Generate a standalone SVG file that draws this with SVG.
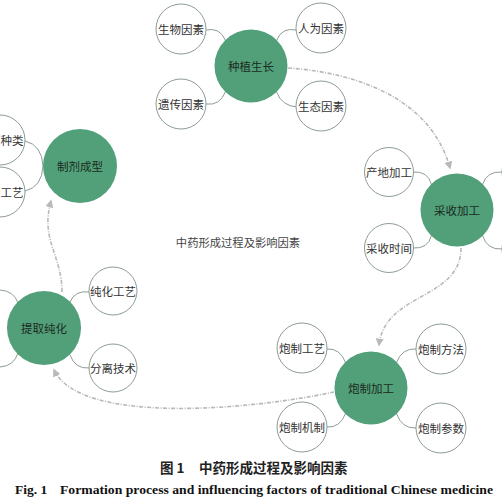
<svg xmlns="http://www.w3.org/2000/svg" width="502" height="501" viewBox="0 0 502 501">
<defs>
<style>
.main{fill:#52a07a;}
.mt{font-family:"Noto Sans CJK SC",sans-serif;font-size:11.5px;fill:#1a2a20;text-anchor:middle;dominant-baseline:central;}
.sat{fill:#ffffff;stroke:#7f9188;stroke-width:0.9;}
.st{font-family:"Noto Sans CJK SC",sans-serif;font-size:11.5px;fill:#333;text-anchor:middle;dominant-baseline:central;}
.link{fill:none;stroke:#7f9188;stroke-width:0.9;}
.flow{fill:none;stroke:#b8b8b8;stroke-width:1.6;stroke-dasharray:4 1.5 1 1.5;marker-end:url(#ah);}
</style>
<marker id="ah" viewBox="0 0 10 10" refX="8" refY="5" markerWidth="5" markerHeight="5" orient="auto" markerUnits="strokeWidth">
<path d="M0,0 L10,5 L0,10 z" fill="#b8b8b8"/>
</marker>
</defs>
<rect width="502" height="501" fill="#ffffff"/>

<g id="connectors">
<path class="flow" d="M288,68 C350,72 430,95 450,168"/>
<path class="flow" d="M461,248 C461,300 385,292 379,345"/>
<path class="flow" d="M334,392 C250,410 80,425 54,370"/>
<path class="flow" d="M62,292 C62,255 40,240 51,201"/>
<path class="link" d="M206,30 Q220,27 225.5,40.5"/>
<path class="link" d="M296,30 Q282,27 276.5,40.5"/>
<path class="link" d="M206,104 Q220,106 225.5,91.5"/>
<path class="link" d="M297,107 Q282,106 276.5,92"/>
<path class="link" d="M25,141 Q42,145 43,166"/>
<path class="link" d="M25,191 Q42,187 43,166"/>
<path class="link" d="M413,172 Q428,171 431.5,184.5"/>
<path class="link" d="M413,248 Q428,249 431.5,235.5"/>
<path class="link" d="M502,172 Q487,171 482.5,184.5"/>
<path class="link" d="M502,249 Q487,250 482.5,235.5"/>
<path class="link" d="M89,292 Q75,290 70,302"/>
<path class="link" d="M89,368 Q75,369 70,355"/>
<path class="link" d="M0,290 Q14,291 18,303"/>
<path class="link" d="M0,367 Q14,366 18,353"/>
<path class="link" d="M327,349 Q340,348 345.5,362.5"/>
<path class="link" d="M416,349 Q402,348 396.5,362.5"/>
<path class="link" d="M327,427 Q340,428 345.5,413.5"/>
<path class="link" d="M416,428 Q402,429 396.5,413.5"/>
</g>

<g id="n-zhongzhi"><circle class="main" cx="251" cy="66" r="36.5"/><text class="mt" x="251" y="66">种植生长</text></g>
<g id="n-shengwu"><circle class="sat" cx="181" cy="29" r="25"/><text class="st" x="181" y="29">生物因素</text></g>
<g id="n-renwei"><circle class="sat" cx="321" cy="28" r="25"/><text class="st" x="321" y="28">人为因素</text></g>
<g id="n-yichuan"><circle class="sat" cx="181" cy="104" r="25"/><text class="st" x="181" y="104">遗传因素</text></g>
<g id="n-shengtai"><circle class="sat" cx="321" cy="106" r="25"/><text class="st" x="321" y="106">生态因素</text></g>

<g id="n-zhiji"><circle class="main" cx="80" cy="166" r="37"/><text class="mt" x="80" y="166">制剂成型</text></g>
<g id="n-zhonglei"><circle class="sat" cx="0" cy="140" r="25"/><text class="st" x="12" y="140">种类</text></g>
<g id="n-gongyi"><circle class="sat" cx="0" cy="192" r="25"/><text class="st" x="12" y="192">工艺</text></g>

<g id="n-caishou"><circle class="main" cx="457" cy="210" r="36.5"/><text class="mt" x="457" y="210">采收加工</text></g>
<g id="n-chandi"><circle class="sat" cx="389" cy="172" r="24.5"/><text class="st" x="389" y="172">产地加工</text></g>
<g id="n-caishijian"><circle class="sat" cx="389" cy="248" r="24.5"/><text class="st" x="389" y="248">采收时间</text></g>
<g id="n-right1"><circle class="sat" cx="527" cy="172" r="25"/></g>
<g id="n-right2"><circle class="sat" cx="527" cy="249" r="25"/></g>

<g id="n-tiqu"><circle class="main" cx="44" cy="328" r="37"/><text class="mt" x="44" y="328">提取纯化</text></g>
<g id="n-chunhua"><circle class="sat" cx="113" cy="291" r="24"/><text class="st" x="113" y="291">纯化工艺</text></g>
<g id="n-fenli"><circle class="sat" cx="113" cy="368" r="24"/><text class="st" x="113" y="368">分离技术</text></g>

<g id="n-paozhi"><circle class="main" cx="371" cy="388" r="36.5"/><text class="mt" x="371" y="388">炮制加工</text></g>
<g id="n-pzgy"><circle class="sat" cx="302" cy="348" r="25"/><text class="st" x="302" y="348">炮制工艺</text></g>
<g id="n-pzff"><circle class="sat" cx="441" cy="349" r="25"/><text class="st" x="441" y="349">炮制方法</text></g>
<g id="n-pzjz"><circle class="sat" cx="302" cy="427" r="25"/><text class="st" x="302" y="427">炮制机制</text></g>
<g id="n-pzcs"><circle class="sat" cx="441" cy="428" r="25"/><text class="st" x="441" y="428">炮制参数</text></g>

<text x="238" y="242" font-family="Noto Sans CJK SC,sans-serif" font-size="11.3" fill="#444" text-anchor="middle" dominant-baseline="central">中药形成过程及影响因素</text>

<g id="caption">
<text x="160" y="473" font-family="Noto Sans CJK SC,sans-serif" font-size="13.5" font-weight="bold" fill="#222">图 1</text>
<text x="199" y="473" font-family="Noto Sans CJK SC,sans-serif" font-size="13.5" font-weight="bold" fill="#222">中药形成过程及影响因素</text>
<text x="15" y="494" font-family="Liberation Serif,serif" font-size="13.5" font-weight="bold" fill="#111">Fig. 1</text>
<text x="60" y="494" font-family="Liberation Serif,serif" font-size="13.5" font-weight="bold" fill="#111" textLength="433" lengthAdjust="spacingAndGlyphs">Formation process and influencing factors of traditional Chinese medicine</text>
</g>
</svg>
